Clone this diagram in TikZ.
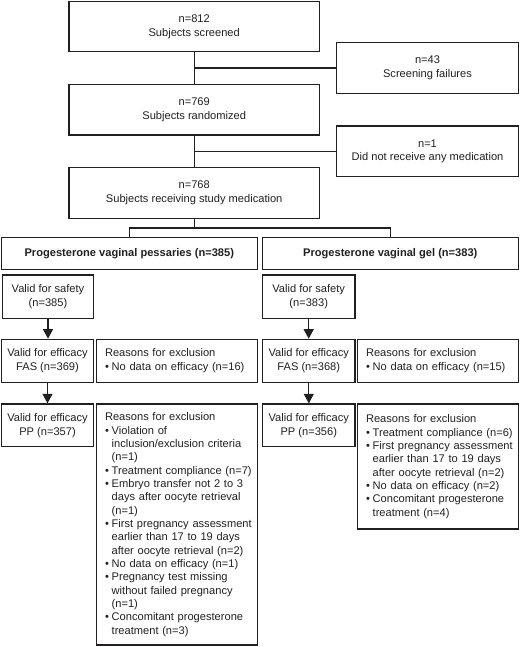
\documentclass[tikz,border=0pt]{standalone}
\usepackage{fontspec}
\setmainfont{Liberation Sans}
\usetikzlibrary{arrows.meta}
\definecolor{ink}{RGB}{35,31,32}
\newcommand{\bulitem}[1]{\mbox{\makebox[6.7pt][l]{\textbullet}#1}}
\newcommand{\contline}[1]{\mbox{\hspace*{6.7pt}#1}}
\tikzset{
  box/.style={draw=ink, text=ink, line width=1.2pt, inner sep=0pt, align=center,
    font=\fontsize{11.1}{13.7}\selectfont},
  exbox/.style={draw=ink, text=ink, line width=1.2pt, inner xsep=8.3pt, inner ysep=0pt, align=left,
    font=\fontsize{11.1}{13.33}\selectfont},
  conn/.style={draw=ink, line width=1.2pt},
  arr/.style={conn, -{Triangle[width=10pt,length=9.5pt]}}
}
\begin{document}
\begin{tikzpicture}[x=1pt,y=-1pt]
\useasboundingbox (0,0) rectangle (520,647);
% top chain
\node[box, minimum width=250.3pt, minimum height=50pt] (screen) at (194.2,26.7) {n=812\\Subjects screened};
\node[box, minimum width=181.6pt, minimum height=50.6pt] (fail) at (427.5,68) {n=43\\Screening failures};
\node[box, minimum width=250.3pt, minimum height=50.7pt] (rand) at (194.2,109.7) {n=769\\Subjects randomized};
\node[box, minimum width=181.6pt, minimum height=50.7pt] (norx) at (427.5,151.3) {n=1\\Did not receive any medication};
\node[box, minimum width=250.3pt, minimum height=50.6pt] (recv) at (194.2,193) {n=768\\Subjects receiving study medication};
% treatment arms
\node[box, minimum width=256pt, minimum height=31.6pt, font=\fontsize{11.1}{13.7}\selectfont\bfseries] (treatL) at (129.3,253.5) {Progesterone vaginal pessaries (n=385)};
\node[box, minimum width=256pt, minimum height=31.6pt, font=\fontsize{11.1}{13.7}\selectfont\bfseries] (treatR) at (390.3,253.5) {Progesterone vaginal gel (n=383)};
% left column
\node[box, minimum width=90.6pt, minimum height=43.3pt] (safeL) at (48,296.7) {Valid for safety\\(n=385)};
\node[box, minimum width=91.6pt, minimum height=43pt] (fasL) at (47.5,360.8) {Valid for efficacy\\FAS (n=369)};
\node[box, minimum width=91.6pt, minimum height=42.7pt] (ppL) at (47.5,425.3) {Valid for efficacy\\PP (n=357)};
\node[exbox, text width=144.4pt, minimum height=43pt, font=\fontsize{11.1}{14.3}\selectfont] (exL1) at (177.2,360.8) {Reasons for exclusion\\\bulitem{No data on efficacy (n=16)}};
\node[exbox, text width=144.4pt, minimum height=241pt] (exL2) at (177.2,524.5) {Reasons for exclusion\\
\bulitem{Violation of}\\
\contline{inclusion/exclusion criteria}\\
\contline{(n=1)}\\
\bulitem{Treatment compliance (n=7)}\\
\bulitem{Embryo transfer not 2 to 3}\\
\contline{days after oocyte retrieval}\\
\contline{(n=1)}\\
\bulitem{First pregnancy assessment}\\
\contline{earlier than 17 to 19 days}\\
\contline{after oocyte retrieval (n=2)}\\
\bulitem{No data on efficacy (n=1)}\\
\bulitem{Pregnancy test missing}\\
\contline{without failed pregnancy}\\
\contline{(n=1)}\\
\bulitem{Concomitant progesterone}\\
\contline{treatment (n=3)}};
% right column
\node[box, minimum width=92.7pt, minimum height=43.3pt] (safeR) at (308.7,296.7) {Valid for safety\\(n=383)};
\node[box, minimum width=92.3pt, minimum height=43pt] (fasR) at (308.8,360.8) {Valid for efficacy\\FAS (n=368)};
\node[box, minimum width=92.3pt, minimum height=42.7pt] (ppR) at (308.8,425.3) {Valid for efficacy\\PP (n=356)};
\node[exbox, text width=144pt, minimum height=43pt, font=\fontsize{11.1}{14.3}\selectfont] (exR1) at (438,360.8) {Reasons for exclusion\\\bulitem{No data on efficacy (n=15)}};
\node[exbox, text width=144pt, minimum height=125pt] (exR2) at (438,466.5) {Reasons for exclusion\\
\bulitem{Treatment compliance (n=6)}\\
\bulitem{First pregnancy assessment}\\
\contline{earlier than 17 to 19 days}\\
\contline{after oocyte retrieval (n=2)}\\
\bulitem{No data on efficacy (n=2)}\\
\bulitem{Concomitant progesterone}\\
\contline{treatment (n=4)}};
% connectors
\draw[conn] (screen.south) -- (rand.north);
\draw[conn] (fail.west) -- (fail.west -| screen.south);
\draw[conn] (rand.south) -- (recv.north);
\draw[conn] (norx.west) -- (norx.west -| rand.south);
\draw[conn] (recv.south) -- ++(0,9) -| (treatL.north);
\draw[conn] (recv.south) -- ++(0,9) -| (treatR.north);
\draw[arr] (safeL.south) -- (safeL.south |- fasL.north);
\draw[arr] (fasL.south) -- (ppL.north);
\draw[arr] (safeR.south) -- (safeR.south |- fasR.north);
\draw[arr] (fasR.south) -- (ppR.north);
\end{tikzpicture}
\end{document}
